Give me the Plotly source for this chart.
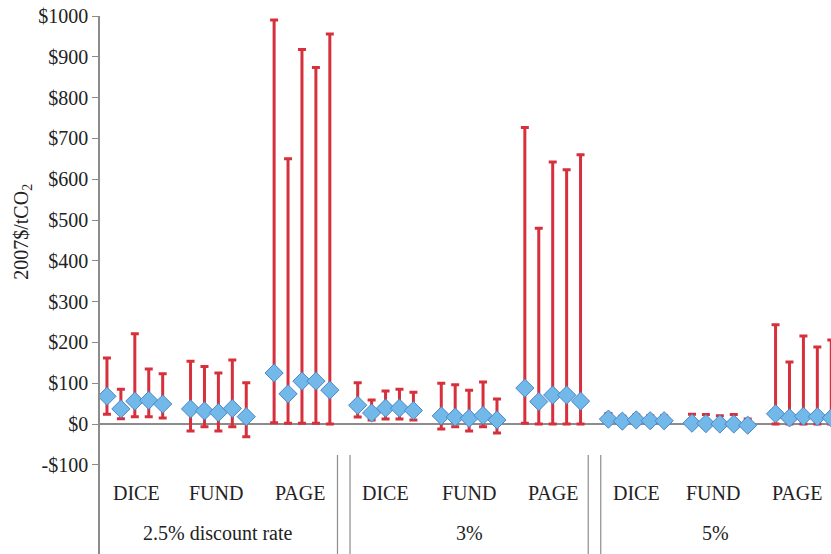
import plotly.graph_objects as go

# ---- data (2007$/tCO2) ----
rates = ["2.5% discount rate", "3%", "5%"]
models = ["DICE", "FUND", "PAGE"]

# central estimates, 5 per model (DICE, FUND, PAGE) per discount rate
mid_25 = [68, 37, 56, 58, 49,   37, 32, 28, 38, 18,   125, 74, 105, 105, 83]
hi_25  = [162, 85, 221, 135, 123,   154, 141, 125, 157, 101,   990, 650, 918, 874, 956]
lo_25  = [24, 13, 18, 18, 15,   -17, -7, -17, -7, -31,   3, 2, 2, 2, 0]

mid_3 = [46, 27, 39, 39, 33,   20, 17, 14, 21, 10,   88, 55, 71, 71, 56]
hi_3  = [101, 59, 81, 85, 78,   100, 96, 83, 103, 61,   727, 480, 642, 623, 660]
lo_3  = [17, 10, 12, 12, 10,   -12, -7, -17, -7, -22,   2, 0, 0, 0, 0]

mid_5 = [12, 7, 10, 8, 8,   2, 1, 0, 0, -3,   25, 15, 19, 18, 15]
hi_5  = [26, 19, 22, 20, 20,   24, 23, 20, 23, 12,   243, 152, 216, 189, 206]
lo_5  = [5, 2, 3, 2, 3,   -8, -8, -10, -8, -12,   0, 0, 0, 0, 0]

tick_vals = [1000, 900, 800, 700, 600, 500, 400, 300, 200, 100, 0, -100]
tick_text = ["$1000", "$900", "$800", "$700", "$600", "$500", "$400",
             "$300", "$200", "$100", "$0", "-$100"]

mids = [mid_25, mid_3, mid_5]
his = [hi_25, hi_3, hi_5]
los = [lo_25, lo_3, lo_5]

FONT = "Liberation Serif"
RED = "#d7303d"
GRAY = "#8c8c8c"

xs, ys, up, dn = [], [], [], []
for g in range(3):
    for m in range(3):
        for k in range(5):
            i = m * 5 + k
            xs.append(18 * g + 6 * m + k)
            ys.append(mids[g][i])
            up.append(his[g][i] - mids[g][i])
            dn.append(mids[g][i] - los[g][i])

fig = go.Figure()
fig.add_trace(go.Scatter(
    x=xs, y=ys, mode="markers",
    marker=dict(symbol="diamond", size=14, color="#72b8e8",
                line=dict(color="#4a86c8", width=1)),
    error_y=dict(type="data", symmetric=False, array=up, arrayminus=dn,
                 color=RED, thickness=3, width=4),
    showlegend=False, cliponaxis=True,
))

label_shift = {(2, 1): -7, (2, 2): -6, (0, 0): 2, (0, 1): -2, (0, 2): -2}
annotations = []
for g in range(3):
    for m in range(3):
        annotations.append(dict(x=18 * g + 6 * m + 2, y=-169, xref="x", yref="y",
                                xshift=label_shift.get((g, m), 0),
                                text=models[m], showarrow=False,
                                font=dict(family=FONT, size=20, color="#222")))
    annotations.append(dict(x=18 * g + 8, y=-267, xref="x", yref="y",
                            xshift=-4 if g == 2 else 0,
                            text=rates[g], showarrow=False,
                            font=dict(family=FONT, size=20, color="#222")))

annotations.append(dict(x=0, y=470, xref="paper", yref="y", xshift=-92,
                        text="2007$/tCO<sub>2</sub>", textangle=-90,
                        showarrow=False,
                        font=dict(family=FONT, size=20, color="#222")))

shapes = []
for g in range(2):
    for dx in (16.55, 17.45):
        shapes.append(dict(type="line", xref="x", yref="y",
                           x0=18 * g + dx, x1=18 * g + dx, y0=-76, y1=-330,
                           line=dict(color=GRAY, width=1.2)))

fig.update_layout(
    width=831, height=554,
    margin=dict(l=100, r=0, t=16, b=0),
    paper_bgcolor="white", plot_bgcolor="white",
    font=dict(family=FONT, size=20, color="#222"),
    annotations=annotations, shapes=shapes,
    xaxis=dict(range=[-0.5, 51.98], visible=False, showgrid=False, zeroline=False),
    yaxis=dict(range=[-318.6, 1000], tickvals=tick_vals, ticktext=tick_text,
               showgrid=False, showline=True, linecolor=GRAY, linewidth=1.5,
               ticks="outside", ticklen=6, tickcolor=GRAY, tickwidth=1,
               zeroline=True, zerolinecolor=GRAY, zerolinewidth=1.5,
               automargin=False,
               tickfont=dict(family=FONT, size=20, color="#222")),
)

fig.write_html("out.html", config={"displayModeBar": False},
               post_script="document.body.style.margin='0';document.body.style.overflow='hidden';")
